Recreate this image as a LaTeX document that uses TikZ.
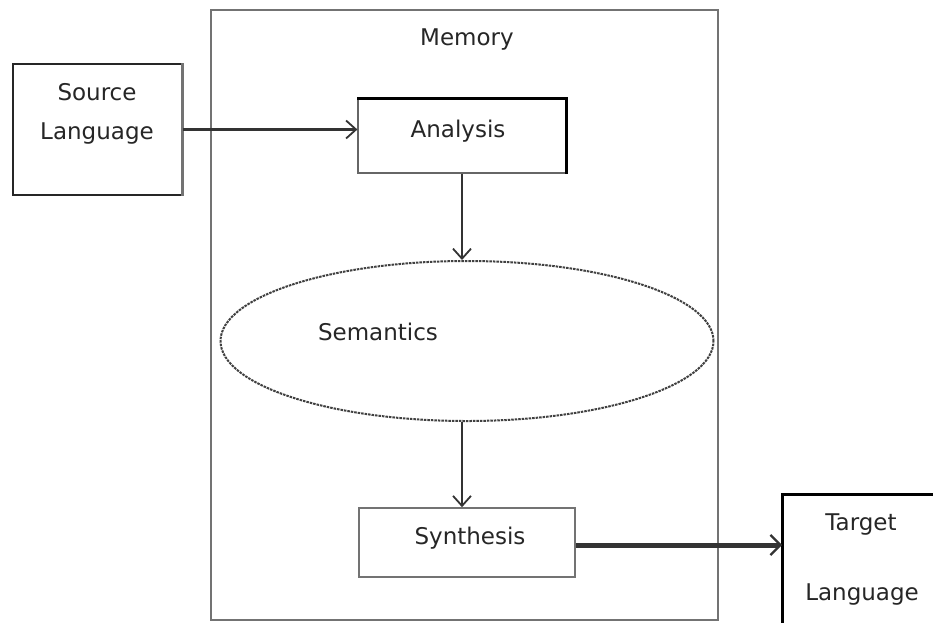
\documentclass[tikz,border=0pt]{standalone}
\usepackage{fontspec}
\setmainfont{DejaVu Sans}
\usetikzlibrary{arrows.meta,shapes.geometric}

\tikzset{
  lbl/.style={font=\fontsize{23}{39}\selectfont, text=black!85, align=center, inner sep=0pt},
  boxnode/.style={draw=black!85, line width=1.6pt, rectangle, inner sep=0pt},
  flow/.style={draw=black!80, line width=2.2pt, -{Straight Barb[length=10pt,width=18pt,line width=1.8pt]}},
  bigflow/.style={draw=black!80, line width=5pt, -{Straight Barb[length=10pt,width=20pt,line width=2.2pt]}}
}

\begin{document}
\begin{tikzpicture}[x=1pt,y=-1pt]
  \clip (0,0) rectangle (933,622);
  \fill[white] (0,0) rectangle (933,622);

  % memory frame
  \node[draw=black!55, line width=2pt, rectangle, minimum width=507pt, minimum height=610pt, inner sep=0pt] (mem) at (464.5,315) {};
  \node[lbl] (memlbl) at (467,40) {Memory};

  % source language
  \node[boxnode, minimum width=169pt, minimum height=131pt] (src) at (97.5,129.5) {};
  \draw[black!55, line width=3pt] (src.north east) -- (src.south east);
  \node[lbl] (srclbl) at (97,114) {Source\\Language};

  % analysis
  \node[draw=black!60, line width=1.2pt, rectangle, minimum width=208pt, minimum height=74pt, inner sep=0pt] (ana) at (462,136) {};
  \draw[black, line width=3pt] (ana.north west) -- (ana.north east) -- (ana.south east);
  \node[lbl] (analbl) at (458,131) {Analysis};

  % semantics
  \node[draw=black!75, line width=2pt, dash pattern=on 2.5pt off 1pt, ellipse, minimum width=493pt, minimum height=160pt, inner sep=0pt] (sem) at (467,341) {};
  \node[lbl] (semlbl) at (378,332) {Semantics};

  % synthesis
  \node[draw=black!55, line width=1.6pt, rectangle, minimum width=216pt, minimum height=69pt, inner sep=0pt] (syn) at (467,542.5) {};
  \node[lbl] (synlbl) at (470,538) {Synthesis};

  % target language
  \node[draw=black!60, line width=1.4pt, rectangle, minimum width=170pt, minimum height=150pt, inner sep=0pt, anchor=north west] (tgt) at (782,494) {};
  \draw[black, line width=3pt] (tgt.south west) -- (tgt.north west) -- (tgt.north east);
  \node[lbl] (tgtlbl1) at (861,524) {Target};
  \node[lbl] (tgtlbl2) at (862,594) {Language};

  % connectors
  \draw[flow] (src.east) -- (src.east -| ana.west);
  \draw[flow] (ana.south) -- (ana.south |- sem.north);
  \draw[flow] (sem.south -| ana.south) -- (syn.north -| ana.south);
  \draw[bigflow] (syn.east |- 0,545) -- (tgt.west |- 0,545);
\end{tikzpicture}
\end{document}
